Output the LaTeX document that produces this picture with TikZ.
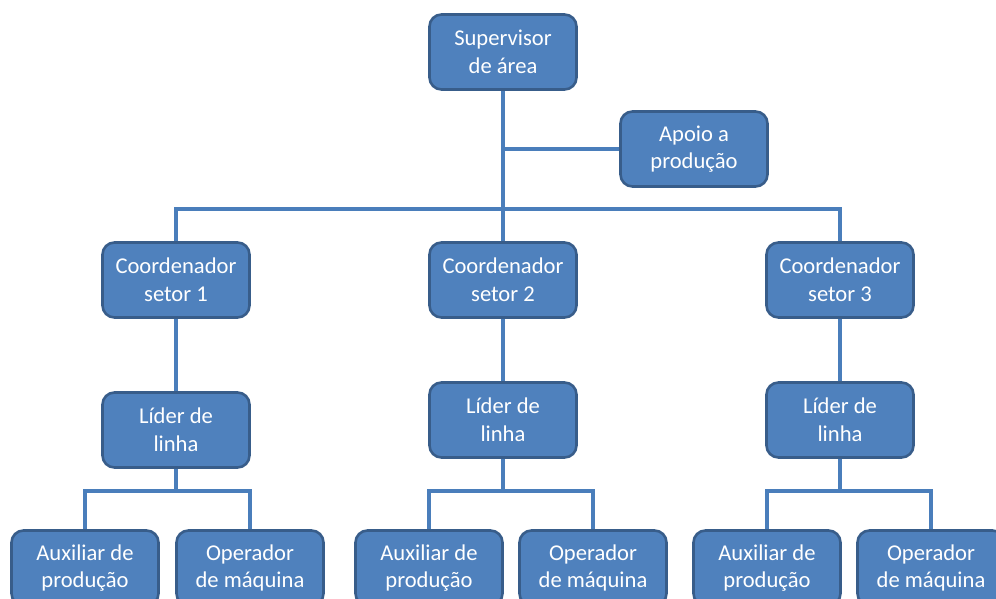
\documentclass[tikz,border=0pt]{standalone}
\usepackage{fontspec}
\setmainfont{Carlito}
\usepackage{tikz}
\usetikzlibrary{positioning}

\definecolor{boxfill}{HTML}{4F81BD}
\definecolor{boxline}{HTML}{385D8A}
\definecolor{linkline}{HTML}{4A7EBB}

\begin{document}
\begin{tikzpicture}[x=0.5pt,y=-0.5pt,
  box/.style={draw=boxline,fill=boxfill,line width=1.3pt,rounded corners=6pt,
    minimum width=73.5pt,minimum height=37.5pt,align=center,text=white,
    font=\fontsize{11.3}{13.8}\selectfont,inner sep=0pt},
  link/.style={draw=linkline,line width=2pt}]
\clip (0,0) rectangle (996,599);
% top level
\node[box] (sup) at (503,52) {Supervisor\\de área};
\node[box] (apoio) at (694,149) {Apoio a\\produção};
% coordinators
\node[box] (coord1) at (176,280) {Coordenador\\setor 1};
\node[box] (coord2) at (503,280) {Coordenador\\setor 2};
\node[box] (coord3) at (840,280) {Coordenador\\setor 3};
% line leaders
\node[box] (lider1) at (176,430) {Líder de\\linha};
\node[box] (lider2) at (503,420) {Líder de\\linha};
\node[box] (lider3) at (840,420) {Líder de\\linha};
% bottom row
\node[box] (aux1) at (85,568) {Auxiliar de\\produção};
\node[box] (op1) at (250,568) {Operador\\de máquina};
\node[box] (aux2) at (429,568) {Auxiliar de\\produção};
\node[box] (op2) at (593,568) {Operador\\de máquina};
\node[box] (aux3) at (767,568) {Auxiliar de\\produção};
\node[box] (op3) at (931,568) {Operador\\de máquina};
% connectors
\coordinate (bus) at (503,209);
\draw[link] (sup.south) -- (coord2.north);
\draw[link] (sup.south |- apoio.west) -- (apoio.west);
\draw[link] (coord1.north) |- (bus) -| (coord3.north);
\draw[link] (coord1) -- (lider1);
\draw[link] (coord2) -- (lider2);
\draw[link] (coord3) -- (lider3);
\foreach \n in {1,2,3}{
  \coordinate (fork\n) at (lider\n.south |- 0,491);
  \draw[link] (lider\n.south) -- (fork\n);
  \draw[link] (aux\n.north) |- (fork\n) -| (op\n.north);
}
\end{tikzpicture}
\end{document}
